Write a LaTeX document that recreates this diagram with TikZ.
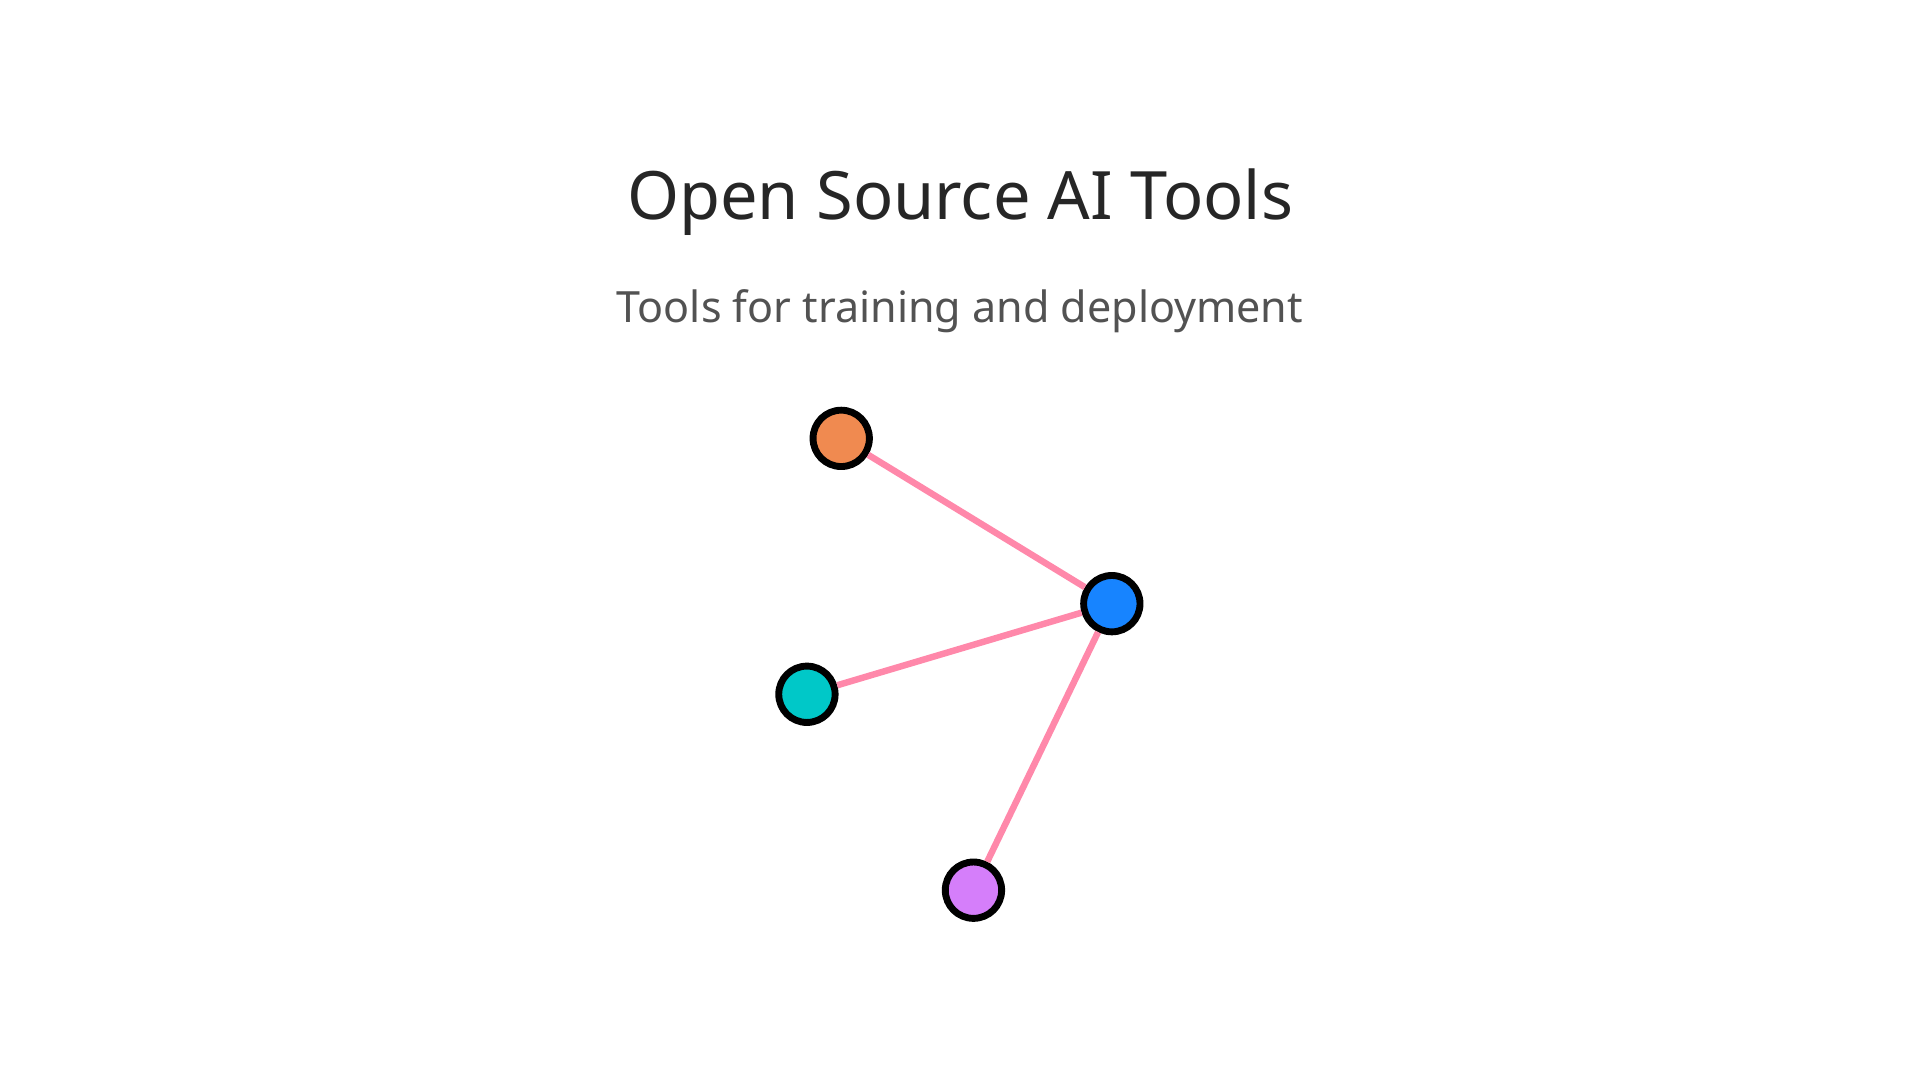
\documentclass[tikz,border=0pt]{standalone}
\usepackage{fontspec}
\setmainfont{Noto Sans}
\definecolor{edgepink}{HTML}{FF88AA}
\definecolor{toolorange}{HTML}{F08A50}
\definecolor{toolblue}{HTML}{1784FF}
\definecolor{toolteal}{HTML}{00C8C8}
\definecolor{toolviolet}{HTML}{D57EFA}
\begin{document}
\begin{tikzpicture}[x=0.01cm,y=-0.01cm,
  tool/.style={draw=black, circle, line width=1.6pt, minimum size=0.46cm, inner sep=0pt},
  link/.style={edgepink, line width=1.5pt}]
\useasboundingbox (0,0) rectangle (1568,882);
% Titles
\node[text=black!85, font=\fontsize{15.5}{18}\selectfont] (title) at (784,165) {Open Source AI Tools};
\node[text=black!68, font=\fontsize{10}{12}\selectfont] (subtitle) at (784,254) {Tools for training and deployment};

% Tools
\node[tool, fill=toolorange] (orange) at (687,358) {};
\node[tool, fill=toolblue] (hub) at (908,493) {};
\node[tool, fill=toolteal] (teal) at (659,567) {};
\node[tool, fill=toolviolet] (violet) at (795,727) {};

% Links
\draw[link] (orange) -- (hub);
\draw[link] (teal) -- (hub);
\draw[link] (violet) -- (hub);
\end{tikzpicture}
\end{document}
